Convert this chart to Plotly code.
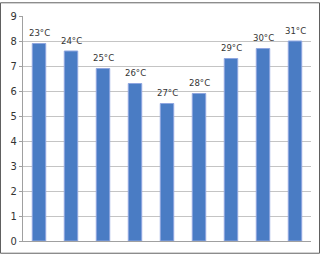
import plotly.graph_objects as go

categories = ["1", "2", "3", "4", "5", "6", "7", "8", "9"]
values = [7.9, 7.6, 6.9, 6.3, 5.5, 5.9, 7.3, 7.7, 8.0]
labels = ["23°C", "24°C", "25°C", "26°C", "27°C", "28°C", "29°C", "30°C", "31°C"]

font_family = "DejaVu Sans Condensed, Liberation Sans Narrow, sans-serif"

fig = go.Figure(go.Bar(
    x=categories, y=values,
    marker=dict(color="#4a7cc4", line=dict(color="#8fa6e0", width=1)),
    width=0.42,
))

# category axis: annotation x given as category index
for i, (v, s) in enumerate(zip(values, labels)):
    fig.add_annotation(x=i, y=v, text=s, showarrow=False, yanchor="middle", yshift=11,
                       font=dict(size=9.5, color="#333333", family=font_family))

W, H = 321, 258
l, r, t, b = 23, 10, 14, 14
pw, ph = W - l - r, H - t - b

fig.update_layout(
    width=W, height=H,
    margin=dict(l=l, r=r, t=t, b=b),
    paper_bgcolor="white", plot_bgcolor="white",
    showlegend=False,
    xaxis=dict(type="category", range=[-0.5, len(categories) - 0.5], showticklabels=False,
               showgrid=False, showline=True, linecolor="#a0a0a0", linewidth=1, ticks=""),
    yaxis=dict(range=[0, 9], dtick=1, showgrid=True, gridcolor="#c4c4c4", gridwidth=1,
               showline=True, linecolor="#a0a0a0", linewidth=1, ticks="outside", ticklen=3, tickcolor="#a0a0a0",
               tickfont=dict(size=11, color="#333333", family=font_family),
               zeroline=False),
    shapes=[dict(type="rect", xref="paper", yref="paper",
                 x0=(0.5 - l) / pw, x1=(319.5 - l) / pw,
                 y0=(H - b - 256.5) / ph, y1=(H - b - 0.5) / ph,
                 line=dict(color="#606060", width=1), fillcolor="rgba(0,0,0,0)", layer="above")],
)

fig.write_html("out.html")
